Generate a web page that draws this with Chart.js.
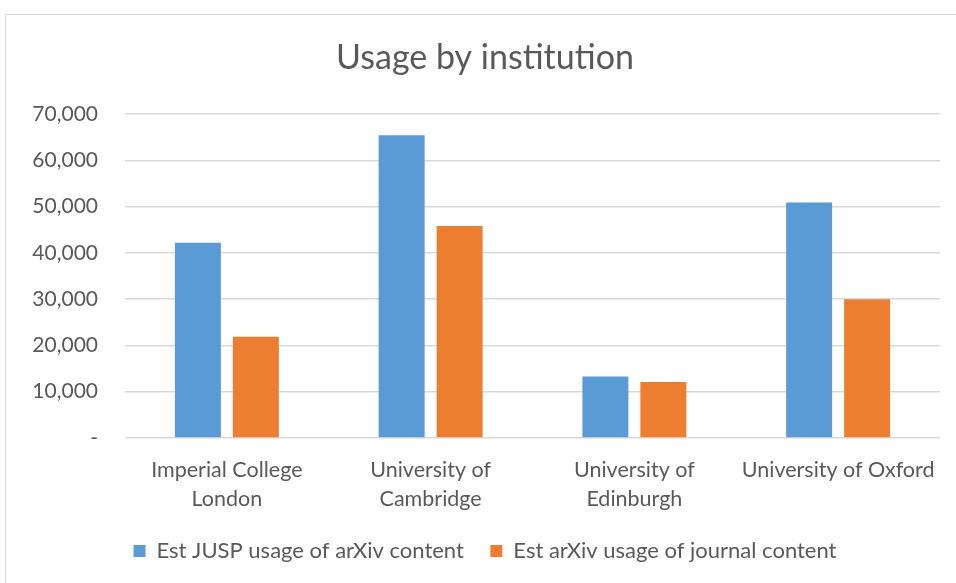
<!DOCTYPE html>
<html>
<head>
  <title>Usage by institution</title>
  <script src="https://cdn.jsdelivr.net/npm/chart.js@4.4.0/dist/chart.umd.min.js"></script>
  <style>
    html, body { margin: 0; padding: 0; background: #fff; overflow: hidden; width: 956px; height: 583px; }
    #frame {
      position: absolute; left: 5px; top: 14px; width: 1000px; height: 700px;
      border: 1px solid #d9d9d9; box-sizing: border-box;
    }
    /* el gráfico original está recortado a la derecha */
    #wrap { position: absolute; left: 0; top: 0; width: 980px; height: 583px; }
  </style>
</head>
<body>
  <div id="frame"></div>
  <div id="wrap"><canvas id="usageChart"></canvas></div>

  <script>
    // Datos
    const institutions = [
      ['Imperial College', 'London'],
      ['University of', 'Cambridge'],
      ['University of', 'Edinburgh'],
      'University of Oxford'
    ];
    const juspUsage = [42200, 65400, 13300, 50900];
    const arxivUsage = [21900, 45800, 12100, 30000];
    const yTicks = [0, 10000, 20000, 30000, 40000, 50000, 60000, 70000];

    const textColor = '#595959';
    const fontFamily = 'Lato, "Open Sans", sans-serif';

    const usageChart = new Chart(document.getElementById('usageChart'), {
      type: 'bar',
      data: {
        labels: institutions,
        datasets: [
          {
            label: 'Est JUSP usage of arXiv content',
            data: juspUsage,
            backgroundColor: '#5b9bd5',
            barPercentage: 0.793,
            categoryPercentage: 0.569
          },
          {
            label: 'Est arXiv usage of journal content',
            data: arxivUsage,
            backgroundColor: '#ed7d31',
            barPercentage: 0.793,
            categoryPercentage: 0.569
          }
        ]
      },
      options: {
        responsive: true,
        maintainAspectRatio: false,
        animation: false,
        layout: { padding: { left: 30, right: 40, top: 18, bottom: 11 } },
        plugins: {
          title: {
            display: true,
            text: 'Usage by institution',
            color: textColor,
            font: { family: fontFamily, size: 34, weight: 'normal', lineHeight: 1.2 },
            padding: { top: 19.6, bottom: 35.6 }
          },
          legend: {
            position: 'bottom',
            labels: {
              color: textColor,
              font: { family: fontFamily, size: 22 },
              boxWidth: 12,
              boxHeight: 12,
              padding: 26.5
            }
          },
          tooltip: { enabled: false }
        },
        scales: {
          x: {
            afterFit: function(scale) { scale.height = 75.5; },
            grid: { display: false },
            border: { display: false },
            ticks: {
              color: textColor,
              font: { family: fontFamily, size: 21.5, lineHeight: 1.335 },
              padding: 10,
              maxRotation: 0
            }
          },
          y: {
            min: 0,
            max: 70000,
            afterBuildTicks: function(scale) {
              scale.ticks = yTicks.map(function(v) { return { value: v }; });
            },
            afterFit: function(scale) { scale.width = 95; },
            grid: { color: '#d9d9d9', lineWidth: 1.5, drawTicks: false },
            border: { display: false },
            ticks: {
              color: textColor,
              font: { family: fontFamily, size: 21 },
              padding: 27,
              callback: function(v) {
                return v === 0 ? '-' : v.toLocaleString('en-US');
              }
            }
          }
        }
      }
    });
  </script>
</body>
</html>
